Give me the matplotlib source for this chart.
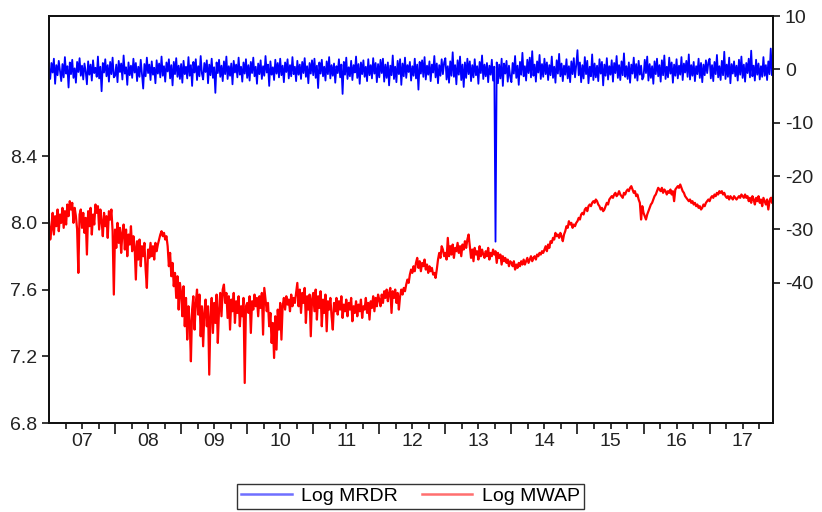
import numpy as np
import matplotlib

matplotlib.use("Agg")
import matplotlib.pyplot as plt
from matplotlib.lines import Line2D

# 54 samples per year, Jan 2007 -> end 2017
PER_YEAR = 54
START_YEAR = 2007

# Log MWAP (left axis), one row per year
log_mwap = [
    8.02, 7.90, 7.96, 8.06, 7.93, 8.04, 7.98, 8.08, 7.95, 8.05, 8.00, 8.09, 7.97, 8.07, 7.99, 8.11, 8.04, 8.13, 8.08, 8.12, 8.00, 8.09, 8.04, 7.96, 7.70, 8.05, 8.08,
    7.97, 8.06, 7.94, 8.03, 7.81, 8.07, 7.98, 8.09, 7.93, 8.05, 7.99, 8.11, 8.06, 8.10, 7.96, 8.08, 8.01, 7.92, 8.06, 7.98, 8.04, 7.91, 8.07, 8.02, 8.08, 7.95, 7.57,
    7.96, 7.85, 8.00, 7.88, 7.97, 7.82, 7.94, 7.99, 7.84, 7.96, 7.80, 7.93, 7.87, 7.98, 7.83, 7.92, 7.86, 7.66, 7.89, 7.78, 7.90, 7.74, 7.86, 7.80, 7.88, 7.72, 7.61,
    7.84, 7.79, 7.88, 7.80, 7.86, 7.78, 7.88, 7.83, 7.87, 7.90, 7.93, 7.95, 7.92, 7.94, 7.90, 7.92, 7.86, 7.74, 7.82, 7.68, 7.76, 7.62, 7.70, 7.55, 7.68, 7.48, 7.64,
    7.58, 7.44, 7.62, 7.38, 7.55, 7.30, 7.50, 7.41, 7.17, 7.48, 7.56, 7.36, 7.52, 7.60, 7.45, 7.57, 7.32, 7.50, 7.26, 7.46, 7.54, 7.38, 7.50, 7.09, 7.44, 7.55, 7.34,
    7.52, 7.40, 7.57, 7.28, 7.48, 7.58, 7.44, 7.60, 7.63, 7.52, 7.58, 7.43, 7.56, 7.36, 7.54, 7.47, 7.58, 7.40, 7.53, 7.46, 7.56, 7.38, 7.50, 7.44, 7.55, 7.04, 7.50,
    7.52, 7.46, 7.56, 7.34, 7.53, 7.48, 7.57, 7.50, 7.55, 7.44, 7.56, 7.49, 7.58, 7.33, 7.61, 7.54, 7.47, 7.52, 7.38, 7.46, 7.28, 7.40, 7.19, 7.44, 7.24, 7.48, 7.36,
    7.52, 7.30, 7.50, 7.55, 7.48, 7.56, 7.51, 7.54, 7.47, 7.57, 7.50, 7.55, 7.52, 7.58, 7.64, 7.50, 7.60, 7.46, 7.58, 7.52, 7.61, 7.40, 7.56, 7.48, 7.57, 7.32, 7.54,
    7.58, 7.47, 7.60, 7.42, 7.56, 7.49, 7.59, 7.38, 7.54, 7.46, 7.57, 7.35, 7.53, 7.48, 7.55, 7.44, 7.36, 7.52, 7.47, 7.55, 7.45, 7.53, 7.48, 7.56, 7.43, 7.51, 7.47,
    7.54, 7.44, 7.52, 7.48, 7.55, 7.41, 7.50, 7.46, 7.53, 7.44, 7.51, 7.47, 7.54, 7.43, 7.50, 7.48, 7.55, 7.46, 7.52, 7.42, 7.53, 7.49, 7.56, 7.47, 7.55, 7.50, 7.57,
    7.54, 7.50, 7.57, 7.52, 7.59, 7.55, 7.60, 7.53, 7.58, 7.61, 7.46, 7.59, 7.55, 7.60, 7.52, 7.58, 7.48, 7.56, 7.60, 7.57, 7.61, 7.59, 7.63, 7.66, 7.64, 7.69, 7.72,
    7.70, 7.74, 7.71, 7.76, 7.79, 7.73, 7.77, 7.71, 7.76, 7.74, 7.78, 7.72, 7.75, 7.70, 7.74, 7.71, 7.73, 7.69, 7.70, 7.67, 7.72, 7.78, 7.82, 7.79, 7.86, 7.84, 7.80,
    7.82, 7.78, 7.91, 7.80, 7.86, 7.81, 7.87, 7.79, 7.85, 7.83, 7.88, 7.82, 7.86, 7.80, 7.87, 7.84, 7.89, 7.85, 7.90, 7.93, 7.86, 7.79, 7.84, 7.77, 7.85, 7.81, 7.83,
    7.78, 7.86, 7.80, 7.84, 7.81, 7.79, 7.83, 7.80, 7.85, 7.78, 7.82, 7.80, 7.84, 7.81, 7.83, 7.76, 7.82, 7.79, 7.81, 7.75, 7.80, 7.77, 7.79, 7.76, 7.78, 7.74, 7.77,
    7.76, 7.74, 7.77, 7.72, 7.75, 7.73, 7.76, 7.74, 7.77, 7.75, 7.78, 7.75, 7.77, 7.79, 7.76, 7.78, 7.80, 7.77, 7.79, 7.80, 7.78, 7.81, 7.80, 7.82, 7.81, 7.83, 7.82,
    7.84, 7.86, 7.83, 7.87, 7.85, 7.89, 7.88, 7.91, 7.90, 7.94, 7.92, 7.93, 7.91, 7.94, 7.92, 7.89, 7.93, 7.95, 7.98, 7.97, 8.01, 7.99, 8.00, 7.97, 7.99, 7.98, 8.00,
    8.01, 8.03, 8.02, 8.05, 8.06, 8.05, 8.08, 8.09, 8.07, 8.10, 8.11, 8.10, 8.12, 8.13, 8.12, 8.14, 8.13, 8.11, 8.10, 8.08, 8.09, 8.07, 8.08, 8.10, 8.12, 8.11, 8.14,
    8.15, 8.16, 8.15, 8.17, 8.18, 8.16, 8.17, 8.19, 8.17, 8.16, 8.15, 8.18, 8.17, 8.19, 8.20, 8.19, 8.21, 8.22, 8.20, 8.18, 8.19, 8.16, 8.17, 8.14, 8.12, 8.02, 8.10,
    8.06, 8.04, 8.02, 8.05, 8.07, 8.09, 8.11, 8.12, 8.14, 8.16, 8.17, 8.19, 8.21, 8.20, 8.19, 8.21, 8.18, 8.20, 8.19, 8.17, 8.19, 8.18, 8.20, 8.17, 8.19, 8.13, 8.20,
    8.21, 8.22, 8.21, 8.23, 8.21, 8.19, 8.18, 8.16, 8.15, 8.14, 8.13, 8.14, 8.12, 8.13, 8.11, 8.12, 8.10, 8.11, 8.09, 8.10, 8.08, 8.09, 8.11, 8.10, 8.12, 8.13, 8.14,
    8.13, 8.15, 8.16, 8.15, 8.17, 8.16, 8.18, 8.17, 8.19, 8.18, 8.19, 8.17, 8.18, 8.16, 8.15, 8.16, 8.14, 8.16, 8.15, 8.14, 8.16, 8.15, 8.14, 8.15, 8.16, 8.15, 8.17,
    8.16, 8.15, 8.17, 8.15, 8.16, 8.13, 8.15, 8.12, 8.16, 8.14, 8.11, 8.15, 8.13, 8.16, 8.12, 8.14, 8.10, 8.15, 8.13, 8.11, 8.14, 8.08, 8.13, 8.15, 8.12, 8.17, 8.16,
]

# Log MRDR (right axis), one row per year
log_mrdr = [
    0.4, -1.8, 1.2, -0.6, 2.0, -2.7, 0.8, -1.1, 1.6, -0.3, -2.2, 1.0, -1.5, 2.3, -0.8, 0.6, -3.4, 1.3, -0.9, 1.8, -1.6, 0.2, -2.5, 1.4, -0.5, 2.1, -1.2,
    0.7, -1.9, 1.1, -0.4, -2.8, 1.5, -1.0, 0.9, -2.1, 1.7, -0.7, 0.3, -1.4, 2.4, -1.7, 0.5, -4.1, 1.2, -0.6, 1.9, -1.3, 0.8, -2.3, 1.4, -0.9, 2.2, -1.5,
    -1.2, 0.9, -2.4, 1.6, -0.5, 1.1, -1.9, 2.6, -0.8, 0.4, -2.9, 1.3, -1.1, 0.7, -1.6, 2.0, -0.6, 1.2, -2.2, 0.5, -1.4, 1.8, -0.9, -3.6, 1.0, -1.3, 2.2,
    -0.7, 0.9, -2.0, 1.5, -1.0, 0.3, -2.6, 1.7, -0.8, 1.1, -1.5, 2.4, -1.2, 0.6, -2.3, 1.3, -0.4, 1.9, -1.7, 0.8, -3.0, 1.4, -0.9, 2.1, -1.4, 0.7, -1.8,
    1.0, -2.5, 1.6, -0.9, 0.5, -1.7, 2.3, -1.2, 0.8, -3.1, 1.4, -0.6, 1.9, -2.0, 0.6, -1.3, 2.5, -0.8, -1.9, 1.2, -0.5, 1.7, -2.6, 0.9, -1.1, 2.0, -1.6,
    0.4, -4.4, 1.3, -0.7, 1.8, -1.4, 0.7, -2.2, 1.5, -0.9, 2.4, -1.8, 0.6, -1.2, 1.1, -2.8, 1.6, -0.6, 0.9, -1.5, 2.2, -1.0, 0.5, -2.3, 1.3, -0.8, 1.9,
    -1.6, 0.8, -2.1, 1.4, -0.7, 2.2, -1.3, 0.5, -2.7, 1.1, -0.9, 1.7, -1.8, 0.6, -1.2, 2.5, -0.6, 0.9, -3.1, 1.5, -1.0, 0.4, -2.0, 1.8, -0.8, 1.2, -1.5,
    2.0, -1.1, 0.7, -2.4, 1.3, -0.5, 1.9, -1.7, 0.8, -1.3, 2.3, -0.9, 0.5, -2.2, 1.6, -1.0, 0.9, -1.8, 1.4, -0.7, 2.1, -1.4, 0.6, -2.6, 1.2, -0.8, 1.7,
    -1.1, 2.0, -1.6, 0.7, -3.5, 1.3, -0.8, 1.8, -1.3, 0.5, -2.1, 1.5, -0.9, 2.3, -1.7, 0.8, -1.2, 1.1, -2.5, 0.6, -0.7, 1.9, -1.5, 0.9, -4.6, 1.4, -1.0,
    2.2, -1.8, 0.4, -1.3, 1.6, -2.0, 0.8, -0.6, 2.4, -1.6, 1.0, -2.7, 1.3, -0.9, 1.7, -1.4, 0.5, -2.2, 1.9, -1.1, 0.8, -1.7, 2.1, -0.8, 1.2, -2.4, 1.0,
    -1.5, 1.8, -0.7, 2.0, -2.3, 0.9, -1.6, 1.3, -3.0, 0.7, -1.1, 2.6, -1.8, 0.5, -2.4, 1.6, -0.9, 1.9, -2.9, 1.1, -1.3, 2.2, -1.6, 0.8, -0.5, 1.4, -2.1,
    0.6, -1.2, 2.0, -1.7, 0.9, -3.8, 1.4, -0.8, 1.7, -1.4, 2.3, -1.9, 0.7, -1.0, 1.5, -2.2, 0.9, -0.6, 2.5, -1.5, 1.1, -2.6, 0.8, -1.2, 1.9, -0.9, 1.3,
    2.1, -1.9, 0.6, -2.5, 1.5, -1.2, 3.2, -1.4, 0.8, -2.8, 1.7, -1.0, 2.4, -2.0, 0.9, -3.3, 1.3, -1.6, 2.0, -0.9, 1.5, -2.2, 0.8, -1.5, 1.9, -1.1, 0.6,
    -2.7, 1.4, -0.7, 2.6, -1.8, 0.9, -1.3, 1.2, -2.4, 0.7, -1.0, 1.8, -2.1, 0.5, -32.3, 1.3, -2.6, 0.9, -1.7, 2.0, -3.1, 1.1, -0.8, 1.6, -2.3, 0.7, -1.4,
    -2.4, 1.2, -0.8, 2.5, -1.6, 0.7, -2.9, 1.4, -1.0, 3.1, -1.3, 0.6, -2.1, 1.8, -0.7, 2.2, -1.5, 3.4, -1.2, 0.9, -2.3, 1.5, -0.6, 2.7, -1.8, 1.0, -1.4,
    2.0, -0.9, 1.3, -2.0, 0.8, -1.1, 2.4, -1.6, 0.5, -2.5, 1.7, -0.8, 2.9, -1.3, 1.1, -2.2, 0.7, -1.0, 1.9, -1.7, 0.6, -2.4, 1.5, -0.9, 2.1, -1.5, 0.8,
    3.6, -1.1, 1.3, -2.4, 0.8, -1.7, 2.3, -0.9, 1.6, -2.6, 0.5, -1.3, 2.8, -2.0, 1.1, -1.5, 0.7, -2.2, 1.9, -0.8, 1.4, -3.0, 0.9, -1.2, 2.1, -1.9, 0.6,
    -1.0, 1.7, -2.3, 1.2, -0.7, 2.5, -1.6, 0.8, -2.0, 1.5, -1.1, 3.0, -1.4, 0.6, -1.8, 1.3, -2.5, 0.9, -0.8, 2.2, -1.6, 1.0, -2.1, 1.6, -1.0, 0.7, -1.9,
    -1.4, 1.8, -0.7, 2.4, -2.1, 1.0, -1.6, 0.6, -2.7, 1.5, -0.9, 2.0, -1.3, 0.8, -2.3, 1.7, -1.1, 2.6, -1.8, 0.5, -1.5, 2.2, -0.8, 1.3, -2.5, 0.9, -1.2,
    1.9, -1.7, 0.7, -1.0, 2.3, -2.0, 1.1, -0.6, 1.6, -1.4, 2.8, -1.9, 0.8, -1.2, 1.4, -2.2, 0.6, -0.9, 2.0, -1.6, 1.2, -2.4, 0.9, -1.1, 1.7, -0.7, 1.3,
    2.0, -1.7, 0.8, -2.2, 1.4, -0.9, 2.7, -1.5, 0.6, -2.0, 1.6, -1.1, 3.3, -1.8, 0.9, -1.4, 2.2, -2.6, 1.0, -0.8, 1.5, -1.3, 0.7, -2.1, 1.8, -1.0, 2.4,
    -1.6, 0.9, -2.3, 1.2, -0.7, 2.0, -1.5, 3.5, -1.3, 0.7, -2.1, 1.8, -1.0, 1.1, -1.9, 0.6, -1.4, 2.3, -1.2, 0.8, -2.0, 1.5, -0.9, 3.9, -1.1, 0.4, -0.6,
]

year_labels = ["07", "08", "09", "10", "11", "12", "13", "14", "15", "16", "17"]
left_ticks = [6.8, 7.2, 7.6, 8.0, 8.4]
right_ticks = [-40, -30, -20, -10, 0, 10]

C_BLUE = "#0000FF"
C_RED = "#FF0000"


def main():
    plt.rcParams.update({
        "font.family": ["Liberation Sans", "DejaVu Sans"],
        "axes.unicode_minus": False,
    })
    fig = plt.figure(figsize=(8.22, 5.12), dpi=100)
    ax = fig.add_axes([0.0596, 0.1738, 0.8808, 0.7949])
    ax2 = ax.twinx()

    t_red = START_YEAR + np.arange(len(log_mwap)) / PER_YEAR
    t_blue = START_YEAR + np.arange(len(log_mrdr)) / PER_YEAR
    ax.plot(t_red, log_mwap, color=C_RED, lw=1.6)
    ax2.plot(t_blue, log_mrdr, color=C_BLUE, lw=1.3)

    ax.set_xlim(START_YEAR, START_YEAR + 10.96)
    ax.set_ylim(6.8, 9.24)
    ax2.set_ylim(-66.3, 10)

    # year boundaries = long ticks, quarters = short ticks, labels mid-year
    n_years = len(year_labels)
    bounds = [START_YEAR + k for k in range(1, n_years)]
    ax.set_xticks(bounds, labels=[""] * len(bounds))
    quarters, qlabels = [], []
    for k, lab in enumerate(year_labels):
        for q, txt in ((0.25, ""), (0.5, lab), (0.75, "")):
            quarters.append(START_YEAR + k + q)
            qlabels.append(txt)
    ax.set_xticks(quarters, labels=qlabels, minor=True)
    ax.tick_params(axis="x", which="major", length=8, width=1.1, direction="out")
    ax.tick_params(axis="x", which="minor", length=4.5, width=1.1, direction="out",
                   labelsize=14, pad=3, colors="black", labelcolor="#222222")

    ax.set_yticks(left_ticks, labels=[f"{v:.1f}" for v in left_ticks])
    ax2.set_yticks(right_ticks, labels=[str(v) for v in right_ticks])
    ax.tick_params(axis="y", length=5, width=1.1, labelsize=14, labelcolor="#222222")
    ax2.tick_params(axis="y", length=5, width=1.1, labelsize=14, labelcolor="#222222")

    for a in (ax, ax2):
        for s in a.spines.values():
            s.set_linewidth(1.3)
            s.set_color("#111111")

    handles = [
        Line2D([], [], color="#6f6fff", lw=1.8, label="Log MRDR"),
        Line2D([], [], color="#ff6f6f", lw=1.8, label="Log MWAP"),
    ]
    leg = fig.legend(handles=handles, loc="center", bbox_to_anchor=(0.4994, 0.0303),
                     ncol=2, frameon=True, fancybox=False, fontsize=14,
                     handlelength=2.6, columnspacing=1.2, handletextpad=0.5,
                     borderpad=0.2, borderaxespad=0)
    leg.get_frame().set_edgecolor("black")
    leg.get_frame().set_linewidth(1.0)

    fig.savefig("out.png", dpi=100)


if __name__ == "__main__":
    main()
